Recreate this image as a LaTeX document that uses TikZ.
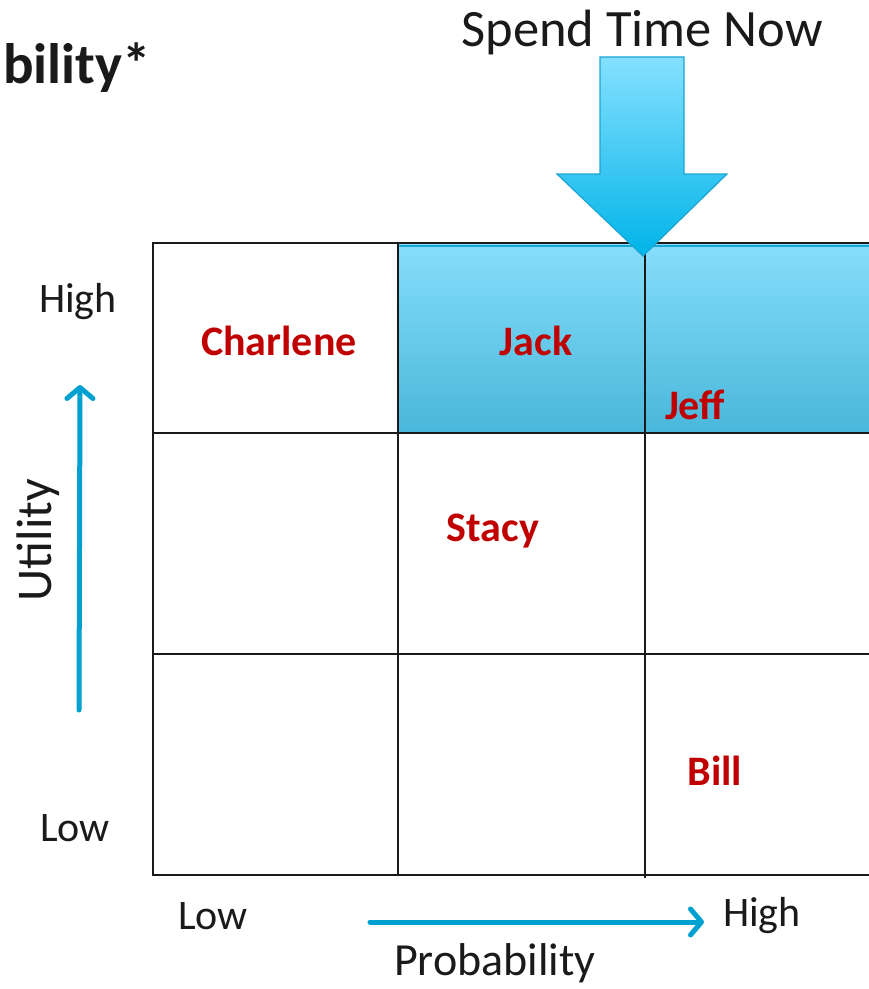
\documentclass[tikz,border=0pt]{standalone}
\usepackage{fontspec}
\setmainfont{Carlito}
\usetikzlibrary{arrows.meta}
\definecolor{redtxt}{HTML}{C00000}
\definecolor{axisblue}{HTML}{00A0D0}
\definecolor{celltop}{HTML}{86DEFB}
\definecolor{cellbot}{HTML}{4AB7DA}
\definecolor{arrtop}{HTML}{86E0FF}
\definecolor{arrbot}{HTML}{00B4E8}
\definecolor{arredge}{HTML}{1AA5D4}
\definecolor{inktxt}{HTML}{1A1A1A}
\begin{document}
\begin{tikzpicture}[x=1pt,y=-1pt,
  gridline/.style={line width=2pt,draw=inktxt},
  person/.style={text=redtxt,font=\fontsize{42}{46}\selectfont\bfseries,inner sep=0pt},
  axlabel/.style={text=inktxt,font=\fontsize{42}{46}\selectfont,inner sep=0pt},
  axisarrow/.style={line width=5pt,draw=axisblue,line cap=round,-{Straight Barb[length=11pt,width=26pt,line width=5pt,round]}}]
\useasboundingbox (0,0) rectangle (869,989);
% highlighted cells
\shade[top color=celltop,bottom color=cellbot] (398,243) rectangle (875,433);
\draw[line width=2pt,draw=arredge] (399,246) -- (875,246);
% grid
\draw[gridline] (153,243) -- (875,243);
\draw[gridline] (153,433) -- (875,433);
\draw[gridline] (153,654) -- (875,654);
\draw[gridline] (153,875) -- (875,875);
\draw[gridline] (153,242) -- (153,876);
\draw[gridline] (398,242) -- (398,876);
\draw[gridline] (645,250) -- (645,878);
% big arrow
\shade[top color=arrtop,bottom color=arrbot,draw=arredge,line width=1.2pt]
  (600,57) -- (684,57) -- (684,174) -- (727,174) -- (643,256) -- (557,174) -- (600,174) -- cycle;
% texts
\node[text=inktxt,font=\fontsize{57}{62}\selectfont\bfseries,anchor=west,inner sep=0pt] (title) at (3,68) {bility*};
\node[text=inktxt,font=\fontsize{52.5}{58}\selectfont,inner sep=0pt] (spend) at (642,32) {Spend Time Now};
\node[person] (charlene) at (279,341) {Charlene};
\node[person] (jack) at (536,341) {Jack};
\node[person] (jeff) at (695,405) {Jeff};
\node[person] (stacy) at (493,531) {Stacy};
\node[person] (bill) at (715,771) {Bill};
\node[axlabel] (uhigh) at (78,302) {High};
\node[axlabel] (ulow) at (75,828) {Low};
\node[axlabel] (plow) at (213,916) {Low};
\node[axlabel] (phigh) at (762,916) {High};
\node[axlabel,font=\fontsize{46}{50}\selectfont] (prob) at (495,963) {Probability};
\node[axlabel,font=\fontsize{50}{54}\selectfont,rotate=90] (util) at (38,540) {Utility};
% axis arrows
\coordinate (ua) at (79,710);
\coordinate (ub) at (80,385);
\coordinate (pa) at (370,922);
\coordinate (pb) at (704,922);
\draw[axisarrow] (ua) -- (ub);
\draw[axisarrow] (pa) -- (pb);
\end{tikzpicture}
\end{document}
